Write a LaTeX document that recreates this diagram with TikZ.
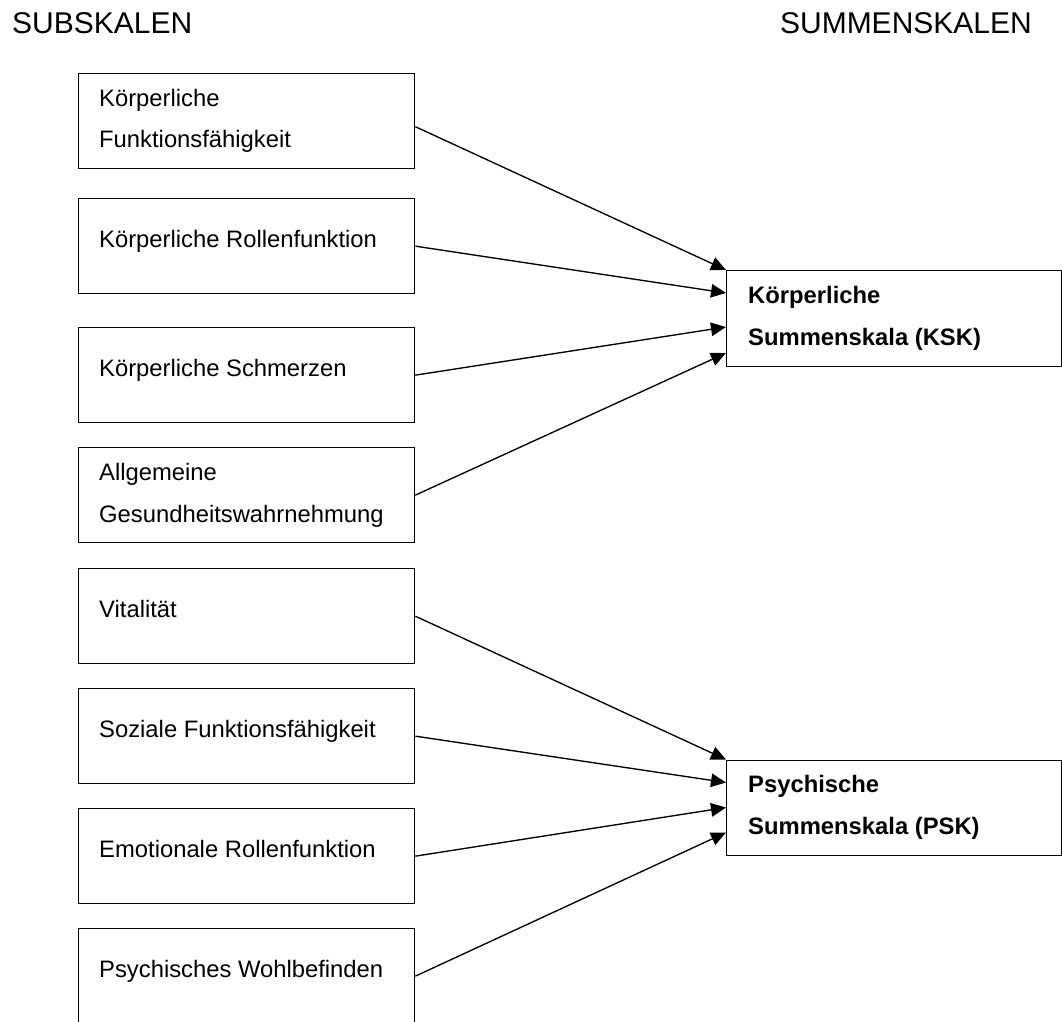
\documentclass[tikz,border=0pt]{standalone}
\usepackage{fontspec}
\setmainfont{Liberation Sans}
\usetikzlibrary{arrows.meta,calc}
\begin{document}
\begin{tikzpicture}[x=1pt,y=-1pt,
  subbox/.style={draw,line width=1.3pt,rectangle,minimum width=336.5pt,minimum height=95pt,inner sep=0pt,anchor=north west},
  sumbox/.style={subbox,minimum width=334.5pt,minimum height=95.5pt},
  lbl/.style={anchor=base west,inner sep=0pt,font=\fontsize{23.8}{28}\selectfont},
  blbl/.style={anchor=base west,inner sep=0pt,font=\fontsize{23.8}{28}\selectfont\bfseries},
  hdr/.style={inner sep=0pt,font=\fontsize{30}{36}\selectfont},
  link/.style={line width=1.35pt,-{Triangle[length=15pt,width=13.5pt]}}]
\useasboundingbox (0,0) rectangle (1062,1021);
% headers
\node[hdr,anchor=base west] (h1) at (12,33) {SUBSKALEN};
\node[hdr,anchor=base east] (h2) at (1032,33) {SUMMENSKALEN};
% left boxes
\node[subbox] (b1) at (77.5,73) {};
\node[subbox] (b2) at (77.5,198) {};
\node[subbox] (b3) at (77.5,327) {};
\node[subbox] (b4) at (77.5,447) {};
\node[subbox] (b5) at (77.5,568) {};
\node[subbox] (b6) at (77.5,688) {};
\node[subbox] (b7) at (77.5,808) {};
\node[subbox] (b8) at (77.5,928) {};
% left texts
\node[lbl] (t1a) at (99,106) {Körperliche};
\node[lbl] (t1b) at (99,147) {Funktionsfähigkeit};
\node[lbl] (t2) at (99,247) {Körperliche Rollenfunktion};
\node[lbl] (t3) at (99,376) {Körperliche Schmerzen};
\node[lbl] (t4a) at (99,480) {Allgemeine};
\node[lbl] (t4b) at (99,522) {Gesundheitswahrnehmung};
\node[lbl] (t5) at (99,617) {Vitalität};
\node[lbl] (t6) at (99,737) {Soziale Funktionsfähigkeit};
\node[lbl] (t7) at (99,857) {Emotionale Rollenfunktion};
\node[lbl] (t8) at (99,977) {Psychisches Wohlbefinden};
% right boxes
\node[sumbox] (K) at (726,270) {};
\node[sumbox] (P) at (726,759.5) {};
\node[blbl] (tk1) at (748,303) {Körperliche};
\node[blbl] (tk2) at (748,345) {Summenskala (KSK)};
\node[blbl] (tp1) at (748,792.5) {Psychische};
\node[blbl] (tp2) at (748,834.5) {Summenskala (PSK)};
% connectors
\draw[link] ($(b1.east)+(0,5.5)$) -- (K.north west);
\draw[link] (b2.east) -- ($(K.north west)+(0,23)$);
\draw[link] (b3.east) -- ($(K.north west)+(0,57)$);
\draw[link] (b4.east) -- ($(K.north west)+(0,83)$);
\draw[link] (b5.east) -- (P.north west);
\draw[link] (b6.east) -- ($(P.north west)+(0,23)$);
\draw[link] (b7.east) -- ($(P.north west)+(0,48)$);
\draw[link] (b8.east) -- ($(P.north west)+(0,73)$);
\end{tikzpicture}
\end{document}
